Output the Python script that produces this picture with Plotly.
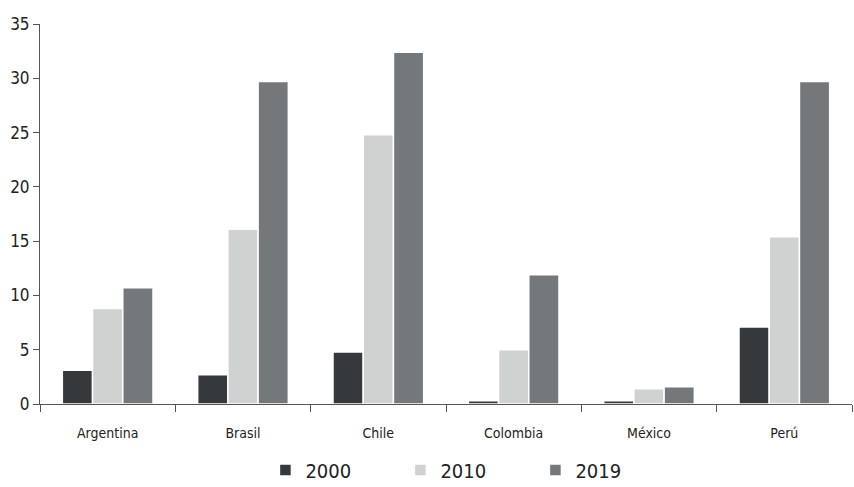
import plotly.graph_objects as go

categories = ["Argentina", "Brasil", "Chile", "Colombia", "México", "Perú"]
v2000 = [3.1, 2.7, 4.8, 0.3, 0.3, 7.1]
v2010 = [8.8, 16.1, 24.8, 5.0, 1.4, 15.4]
v2019 = [10.7, 29.7, 32.4, 11.9, 1.6, 29.7]
y_ticks = [0, 5, 10, 15, 20, 25, 30, 35]

FONT = "Liberation Sans Narrow, DejaVu Sans Condensed, Arial Narrow, sans-serif"

series = [("2000", v2000, "#35393c"), ("2010", v2010, "#d0d1d1"), ("2019", v2019, "#75787b")]

fig = go.Figure()
for name, vals, col in series:
    fig.add_trace(go.Bar(x=categories, y=vals, name=name,
                         marker=dict(color=col, line=dict(color="white", width=1.5))))

fig.update_layout(
    width=854, height=487,
    margin=dict(l=40, r=2, t=24, b=83),
    paper_bgcolor="white", plot_bgcolor="white",
    barmode="group", bargap=0.33, bargroupgap=0,
    font=dict(family=FONT, color="#222", size=15),
    showlegend=True,
    legend=dict(orientation="h", x=0.527, xanchor="center",
                yref="container", y=0.035, yanchor="middle",
                font=dict(size=20, family=FONT, color="#222"),
                entrywidth=90, entrywidthmode="pixels"),
)
fig.update_yaxes(range=[0, 35], tickvals=y_ticks, showgrid=False, zeroline=False,
                 showline=True, linecolor="#555", linewidth=1,
                 ticks="outside", ticklen=6, tickcolor="#555",
                 tickfont=dict(size=17, family=FONT, color="#222"))
fig.update_xaxes(showgrid=False, showline=True, linecolor="#555", linewidth=1,
                 ticks="outside", tickson="boundaries", ticklen=7, tickcolor="#555",
                 ticklabelstandoff=16,
                 tickfont=dict(size=14, family=FONT, color="#222"))

fig.write_html("out.html")
